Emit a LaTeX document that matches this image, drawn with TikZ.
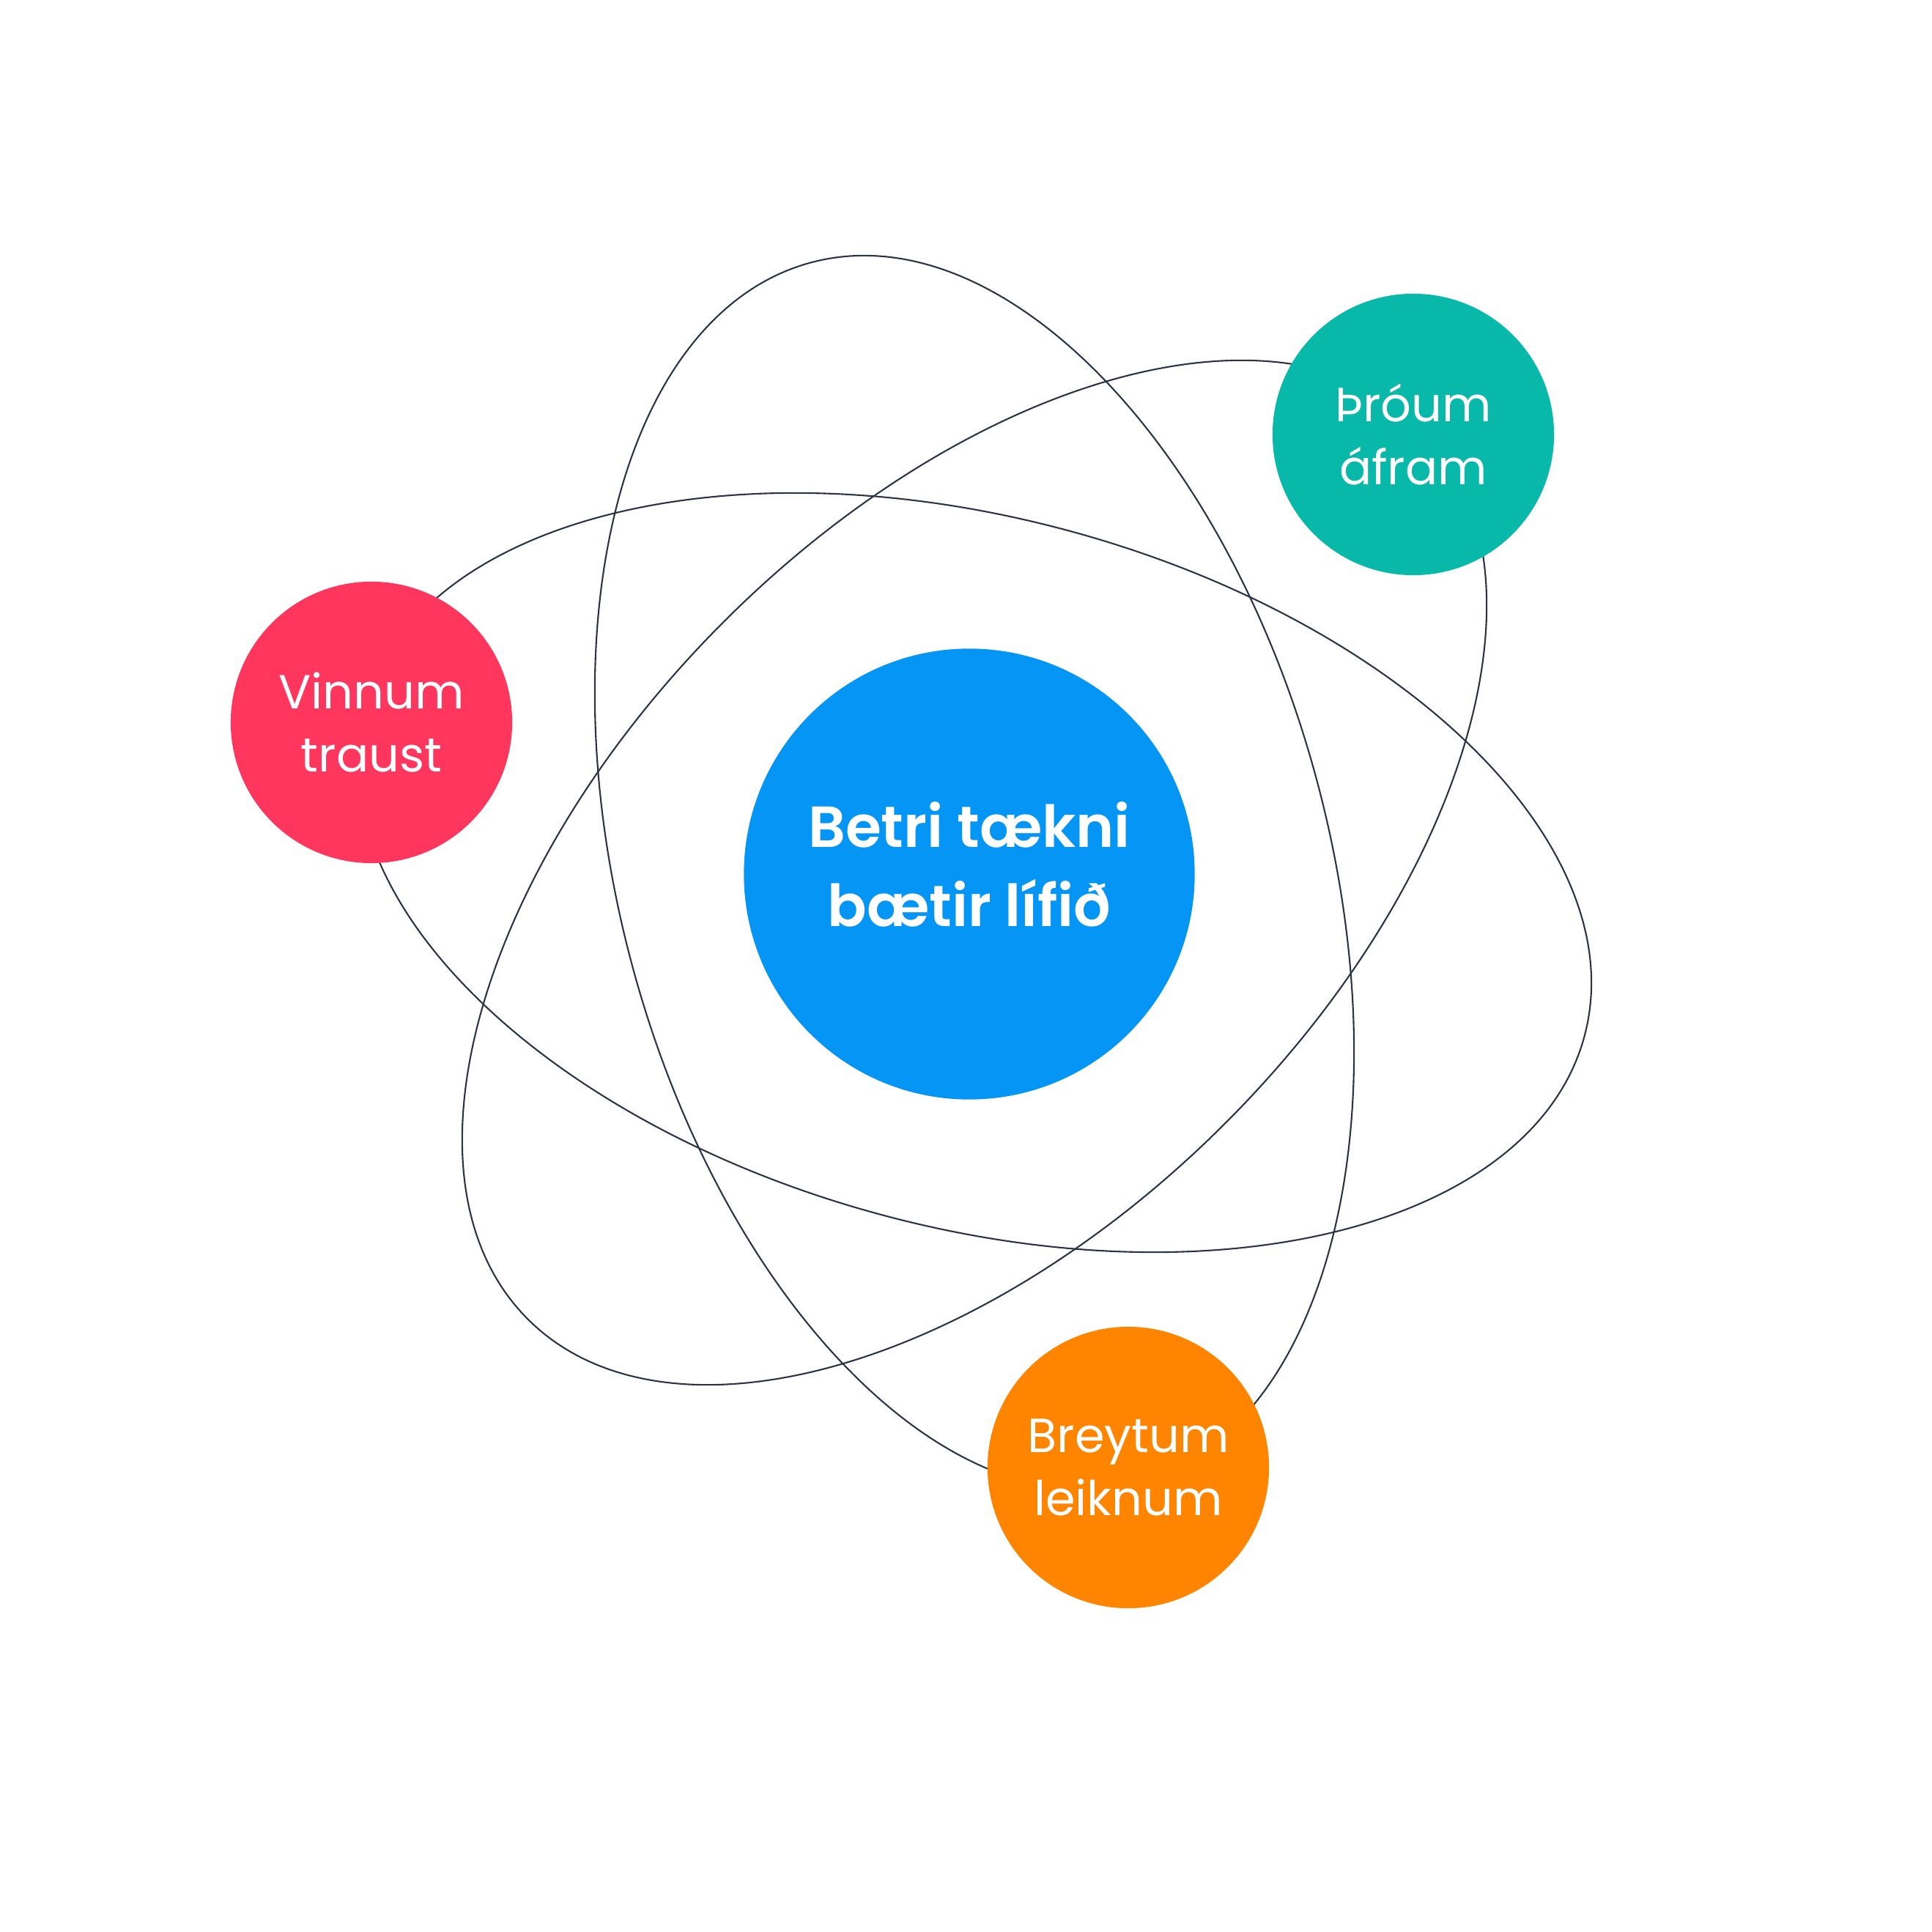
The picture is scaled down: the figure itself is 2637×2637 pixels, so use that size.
\documentclass[tikz,border=0pt]{standalone}
\usepackage{fontspec}
\setmainfont{Poppins}
\IfFontExistsTF{Poppins SemiBold}{\newfontfamily\corefont{Poppins SemiBold}}{%
  \IfFontExistsTF{Poppins Medium}{\newfontfamily\corefont{Poppins Medium}}{\newfontfamily\corefont{Poppins}[FakeBold=2]}}
\definecolor{coreblue}{HTML}{0596F5}
\definecolor{trustred}{HTML}{FF375F}
\definecolor{progteal}{HTML}{08B8A8}
\definecolor{gameorange}{HTML}{FF8400}
\definecolor{orbitline}{HTML}{2B3444}
\begin{document}
\begin{tikzpicture}[x=.01cm, y=.01cm,
  orbit/.style={draw=orbitline, line width=.6pt},
  planet/.style={circle, fill=#1, text=white, align=center, inner sep=0pt,
    minimum size=3.84cm, font=\fontsize{18.6}{24.3}\selectfont}]
\useasboundingbox (-1323,-1444) rectangle (1314,1193);
\coordinate (nucleus) at (7,2);
\draw[orbit, rotate around={105:(nucleus)}] (nucleus) ellipse (862 and 484);
\draw[orbit, rotate around={-15:(nucleus)}] (nucleus) ellipse (862 and 484);
\draw[orbit, rotate around={45:(nucleus)}] (nucleus) ellipse (862 and 484);
\node[planet=coreblue, minimum size=6.15cm, text depth=.27cm, font=\corefont\fontsize{22.5}{30.6}\selectfont] (core) at (0,0) {Betri tækni\\bætir lífið};
\node[planet=trustred] (trust) at (-816,207) {Vinnum\\traust};
\node[planet=progteal] (progress) at (606,600) {Þróum\\áfram};
\node[planet=gameorange] (game) at (217,-810) {Breytum\\leiknum};
\end{tikzpicture}
\end{document}
